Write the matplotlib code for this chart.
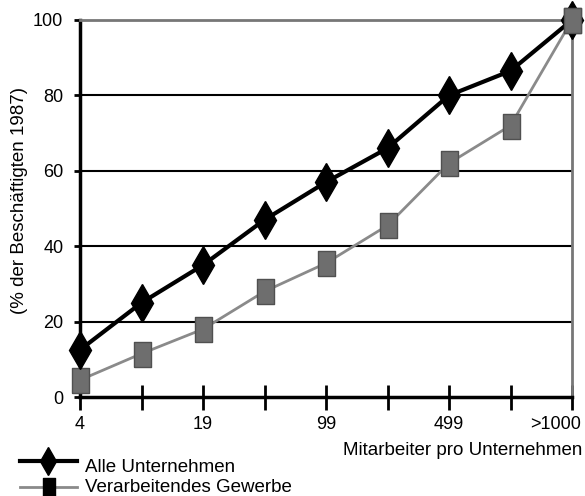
import matplotlib
matplotlib.use("Agg")
import matplotlib.pyplot as plt
from matplotlib.lines import Line2D
from matplotlib.transforms import ScaledTranslation

plt.rcParams['font.family'] = ['Liberation Sans', 'DejaVu Sans']

categories = ["4", "", "19", "", "99", "", "499", "", ">1000"]
alle = [12.5, 25, 35, 47, 57, 66, 80, 86.5, 100]
verarb = [4.5, 11.5, 18, 28, 35.5, 45.5, 62, 72, 100]
yticks = [0, 20, 40, 60, 80, 100]
labels = ['Alle Unternehmen', 'Verarbeitendes Gewerbe']

W, H = 585, 496
fig = plt.figure(figsize=(W/100, H/100), dpi=100)
ax = fig.add_axes([80/W, 1-397/H, (572-80)/W, (397-20)/H])

rect = [(-0.34, -0.5), (0.34, -0.5), (0.34, 0.5), (-0.34, 0.5), (-0.34, -0.5)]
sq_face, sq_edge = '#6e6e6e', '#505050'
line2_col = '#8a8a8a'

x = list(range(len(categories)))
for yv in [20, 40, 60, 80]:
    ax.axhline(yv, color='black', lw=1.5, zorder=1)

ax.plot(x, verarb, color=line2_col, lw=2, marker=rect, markersize=18,
        markerfacecolor=sq_face, markeredgecolor=sq_edge, markeredgewidth=1,
        zorder=3, clip_on=False)
ax.plot(x, alle, color='black', lw=3, marker='d', markersize=19,
        markerfacecolor='black', markeredgecolor='black',
        zorder=4, clip_on=False)
ax.plot([x[-1]], [verarb[-1]], marker=rect, markersize=18, markerfacecolor=sq_face,
        markeredgecolor=sq_edge, zorder=5, clip_on=False)

ax.set_xlim(0, len(categories)-1)
ax.set_ylim(0, 100)
ax.set_xticks(x)
ax.set_xticklabels(categories, fontsize=13)
ax.set_yticks(yticks)
ax.set_yticklabels([str(v) for v in yticks], fontsize=13)
ax.tick_params(axis='x', direction='inout', length=18, width=2, pad=5)
ax.tick_params(axis='y', direction='out', length=4, width=2, pad=8)
lab = ax.get_xticklabels()[-1]
lab.set_horizontalalignment('right')
lab.set_transform(lab.get_transform() + ScaledTranslation(0.09, 0, fig.dpi_scale_trans))

ax.spines['left'].set_linewidth(2.5)
ax.spines['bottom'].set_linewidth(2.5)
for s in ['top', 'right']:
    ax.spines[s].set_color('#777777')
    ax.spines[s].set_linewidth(2)

fig.text(20/W, 1-200/H, '(% der Beschäftigten 1987)', rotation=90, ha='center', va='center',
         fontsize=13.5)
fig.text(582/W, 1-455/H, 'Mitarbeiter pro Unternehmen', ha='right', va='baseline', fontsize=13.5)

# legend
rows = [461, 487]
baselines = [472, 492]
for i, yy in enumerate(rows):
    yf = 1 - yy/H
    if i == 0:
        fig.add_artist(Line2D([20/W, 77/W], [yf, yf], color='black', lw=3, transform=fig.transFigure))
        fig.add_artist(Line2D([48/W], [yf], marker='d', markersize=14, color='black', transform=fig.transFigure))
    else:
        fig.add_artist(Line2D([20/W, 77/W], [yf, yf], color=line2_col, lw=2, transform=fig.transFigure))
        fig.add_artist(Line2D([49/W], [yf], marker=rect, markersize=13, markerfacecolor='black',
                              markeredgecolor='black', transform=fig.transFigure))
    fig.text(85/W, 1 - baselines[i]/H, labels[i], ha='left', va='baseline', fontsize=13.5)

fig.savefig('out.png', dpi=100)
